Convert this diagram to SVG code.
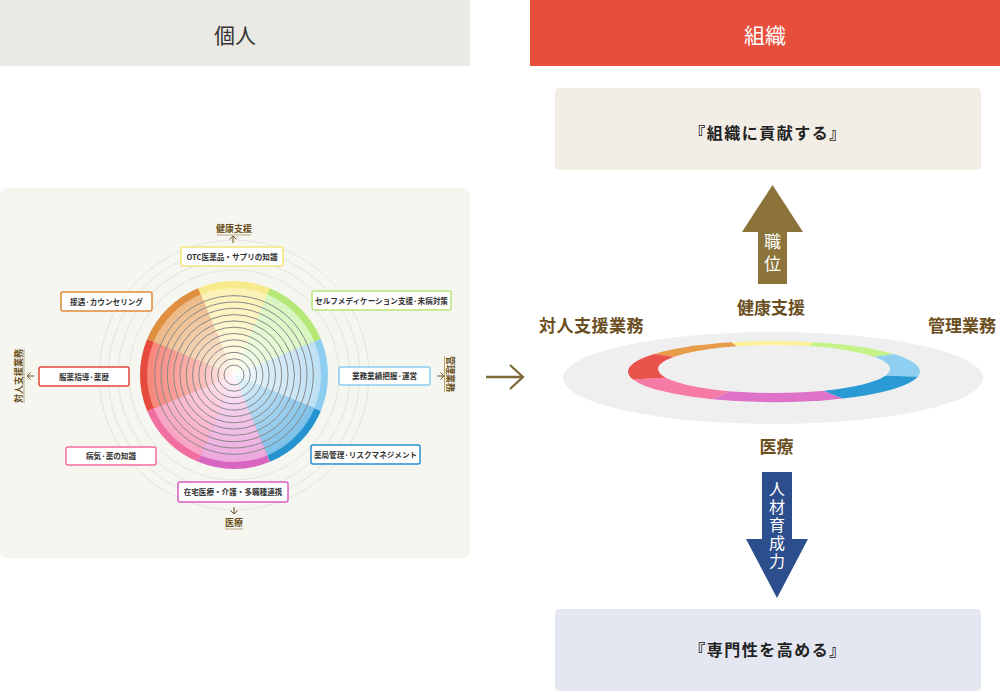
<svg xmlns="http://www.w3.org/2000/svg" width="1000" height="691" viewBox="0 0 1000 691">
<defs>
<radialGradient id="fade" cx="234" cy="375" r="87" gradientUnits="userSpaceOnUse">
<stop offset="0" stop-color="#fff" stop-opacity="0.92"/>
<stop offset="0.4" stop-color="#fff" stop-opacity="0.45"/>
<stop offset="1" stop-color="#fff" stop-opacity="0"/>
</radialGradient>
<path id="secO" d="M234,375 L198.03,288.16 A94,94 0 0 1 269.97,288.16 Z"/>
<path id="secI" d="M234,375 L200.71,294.62 A87,87 0 0 1 267.29,294.62 Z"/>
</defs>
<style>
.hd{font-family:"Noto Sans CJK JP","Noto Sans",sans-serif;font-size:21px;text-anchor:middle}
.lb{font-family:"Noto Sans CJK JP","Noto Sans",sans-serif;font-size:7.6px;fill:#333;text-anchor:middle;font-weight:bold}
.box{fill:#fff;stroke-width:1.5}
.ax{font-family:"Noto Sans CJK JP","Noto Sans",sans-serif;font-size:9px;fill:#6b5020;text-anchor:middle;font-weight:bold}
.axl{stroke:#6b5020;stroke-width:1;fill:none}
.ul{stroke:#b9a57c;stroke-width:1}
.big{font-family:"Noto Sans CJK JP","Noto Sans",sans-serif;font-size:17px;fill:#6b4f1f;font-weight:bold}
.goal{font-family:"Noto Sans CJK JP","Noto Sans",sans-serif;font-size:16px;fill:#222;text-anchor:middle;font-weight:bold;letter-spacing:1.5px}
.vt{font-family:"Noto Sans CJK JP","Noto Sans",sans-serif;fill:#fff;text-anchor:middle;writing-mode:vertical-rl}
.fc{fill:none;stroke:#e4e4dd;stroke-width:1}
.gc{fill:none;stroke:#888;stroke-width:1}
</style>
<rect width="1000" height="691" fill="#fff"/>
<g id="header-kojin">
<rect x="0" y="0" width="470" height="66" fill="#ebe9e3"/>
<text class="hd" x="235" y="43" fill="#333">個人</text>
</g>
<g id="header-soshiki">
<rect x="530" y="0" width="470" height="66" fill="#e84e3c"/>
<text class="hd" x="765" y="43" fill="#fff">組織</text>
</g>
<g id="panel">
<rect x="0" y="188" width="470" height="370" rx="6" fill="#f6f6f0"/>
<circle class="fc" cx="234" cy="375" r="105"/>
<circle class="fc" cx="234" cy="375" r="116"/>
<circle class="fc" cx="234" cy="375" r="126"/>
<circle class="fc" cx="234" cy="375" r="135"/>
</g>
<g id="wheel">
<g><use href="#secO" fill="#f7ea8c"/><use href="#secI" fill="#fcf1b4"/></g>
<g transform="rotate(45,234,375)"><use href="#secO" fill="#b6e878"/><use href="#secI" fill="#d8f6c0"/></g>
<g transform="rotate(90,234,375)"><use href="#secO" fill="#8dcdf0"/><use href="#secI" fill="#bde0f4"/></g>
<g transform="rotate(135,234,375)"><use href="#secO" fill="#2593cf"/><use href="#secI" fill="#7cc0e8"/></g>
<g transform="rotate(180,234,375)"><use href="#secO" fill="#d866c0"/><use href="#secI" fill="#eca8de"/></g>
<g transform="rotate(225,234,375)"><use href="#secO" fill="#f06ea0"/><use href="#secI" fill="#f8a2c2"/></g>
<g transform="rotate(270,234,375)"><use href="#secO" fill="#e54a3c"/><use href="#secI" fill="#f8857a"/></g>
<g transform="rotate(315,234,375)"><use href="#secO" fill="#e08f40"/><use href="#secI" fill="#edba88"/></g>
<circle cx="234" cy="375" r="87" fill="url(#fade)"/>
<circle class="gc" cx="234" cy="375" r="10"/>
<circle class="gc" cx="234" cy="375" r="16.3"/>
<circle class="gc" cx="234" cy="375" r="22.6"/>
<circle class="gc" cx="234" cy="375" r="28.9"/>
<circle class="gc" cx="234" cy="375" r="35.2"/>
<circle class="gc" cx="234" cy="375" r="41.5"/>
<circle class="gc" cx="234" cy="375" r="47.8"/>
<circle class="gc" cx="234" cy="375" r="54.1"/>
<circle class="gc" cx="234" cy="375" r="60.4"/>
<circle class="gc" cx="234" cy="375" r="66.7"/>
<circle class="gc" cx="234" cy="375" r="73"/>
<circle class="gc" cx="234" cy="375" r="79.3"/>
</g>
<g id="lbl-otc"><rect class="box" x="181" y="247" width="102" height="19" rx="2" stroke="#f4e47c"/><text class="lb" x="232" y="259.5">OTC医薬品・サプリの知識</text></g>
<g id="lbl-setsugu"><rect class="box" x="61" y="292" width="91" height="19" rx="2" stroke="#e08a38"/><text class="lb" x="106.5" y="304.5">接遇·カウンセリング</text></g>
<g id="lbl-self"><rect class="box" x="312" y="291" width="139" height="19" rx="2" stroke="#b4e67a"/><text class="lb" x="381.5" y="303.5">セルフメディケーション支援·未病対策</text></g>
<g id="lbl-gyomu"><rect class="box" x="339" y="367" width="91" height="18" rx="2" stroke="#8ccdf0"/><text class="lb" x="384.5" y="379">業務業績把握·運営</text></g>
<g id="lbl-yakkyoku"><rect class="box" x="311" y="445" width="109" height="19" rx="2" stroke="#2a8fd0"/><text class="lb" x="365.5" y="457.5">薬局管理·リスクマネジメント</text></g>
<g id="lbl-zaitaku"><rect class="box" x="178" y="482" width="110" height="20" rx="2" stroke="#d85ec0"/><text class="lb" x="233" y="495">在宅医療・介護・多職種連携</text></g>
<g id="lbl-byoki"><rect class="box" x="66" y="447" width="90" height="18" rx="2" stroke="#f06c9e"/><text class="lb" x="111" y="459">病気·薬の知識</text></g>
<g id="lbl-fukuyaku"><rect class="box" x="39" y="367" width="90" height="19" rx="2" stroke="#e5483a"/><text class="lb" x="84" y="379.5">服薬指導·薬歴</text></g>
<g id="axis-kenko"><text class="ax" x="234" y="232">健康支援</text><line class="ul" x1="217" y1="235" x2="251" y2="235"/></g>
<g id="axis-iryo"><text class="ax" x="234" y="526">医療</text><line class="ul" x1="225" y1="529" x2="243" y2="529"/></g>
<g id="axis-taijin" transform="translate(21.5,376) rotate(-90)"><text class="ax" x="0" y="0">対人支援業務</text><line class="ul" x1="-27" y1="2.5" x2="27" y2="2.5"/></g>
<g id="axis-kanri" transform="translate(447,374) rotate(90)"><text class="ax" x="0" y="0">管理業務</text><line class="ul" x1="-18" y1="2.5" x2="18" y2="2.5"/></g>
<g id="connectors">
<path class="axl" d="M233,243 V236 M229.5,239.5 L233,236 L236.5,239.5"/>
<path class="axl" d="M234,507 V514 M230.5,510.5 L234,514 L237.5,510.5"/>
<path class="axl" d="M34,376 H27 M30.5,372.5 L27,376 L30.5,379.5"/>
<path class="axl" d="M437,376 H444 M440.5,372.5 L444,376 L440.5,379.5"/>
<path d="M486,377 H523 M510,365 L523,377 L510,389" fill="none" stroke="#7d6a3a" stroke-width="2.3"/>
</g>
<g id="goal-top"><rect x="555" y="88" width="426" height="82" rx="4" fill="#f2eee5"/><text class="goal" x="768" y="139">『組織に貢献する』</text></g>
<g id="arrow-up"><polygon points="772.5,185 803,232 787,232 787,284 758,284 758,232 742,232" fill="#8b7339"/>
<text class="vt" font-size="17" letter-spacing="5" x="772.5" y="255">職位</text></g>
<g id="ring">
<ellipse cx="773" cy="378" rx="210" ry="46" fill="#efefef"/>
<path d="M774,371.5 L654.4,354.01 A146,30.5 0 0 1 731.31,342.33 Z" fill="#e89c4a"/>
<path d="M774,371.5 L731.31,342.33 A146,30.5 0 0 1 814.24,342.18 Z" fill="#fbf29a"/>
<path d="M774,371.5 L814.24,342.18 A146,30.5 0 0 1 893.6,354.01 Z" fill="#c6f28a"/>
<path d="M774,371.5 L893.6,354.01 A146,30.5 0 0 1 917.78,376.8 Z" fill="#8fd0f2"/>
<path d="M774,371.5 L917.78,376.8 A146,30.5 0 0 1 842.55,398.43 Z" fill="#2a9ad4"/>
<path d="M774,371.5 L842.55,398.43 A146,30.5 0 0 1 712.3,399.14 Z" fill="#de72c8"/>
<path d="M774,371.5 L712.3,399.14 A146,30.5 0 0 1 632.98,379.39 Z" fill="#f67aa6"/>
<path d="M774,371.5 L632.98,379.39 A146,30.5 0 0 1 654.4,354.01 Z" fill="#e8524a"/>
<ellipse cx="774" cy="369" rx="116" ry="24" fill="#efefef"/>
</g>
<g id="ring-labels">
<text class="big" x="771" y="314" text-anchor="middle">健康支援</text>
<text class="big" x="539" y="332" letter-spacing="0.5">対人支援業務</text>
<text class="big" x="928" y="332">管理業務</text>
<text class="big" x="776.5" y="453" text-anchor="middle">医療</text>
</g>
<g id="arrow-down"><polygon points="762,472 792,472 792,539 808,539 777,598 746,539 762,539" fill="#2d4e8c"/>
<text class="vt" font-size="16" letter-spacing="2" x="777" y="526">人材育成力</text></g>
<g id="goal-bottom"><rect x="555" y="609" width="426" height="82" rx="4" fill="#e4e7f1"/><text class="goal" x="768" y="656">『専門性を高める』</text></g>
</svg>
